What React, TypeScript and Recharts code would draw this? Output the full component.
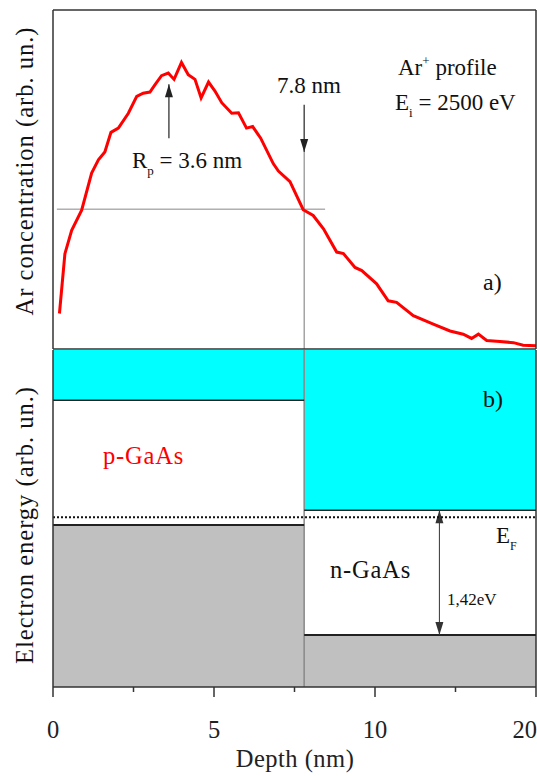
import React from 'react'
import { LineChart, ComposedChart, Line, XAxis, YAxis, ReferenceLine, ReferenceArea } from 'recharts'

// Ar+ implantation profile (panel a)
const depth = [
  0.2, 0.37, 0.58, 0.89, 1.2, 1.41, 1.61, 1.8, 2.03, 2.34, 2.6, 2.8, 3.01, 3.17, 3.37, 3.58, 3.76, 3.99,
  4.2, 4.41, 4.6, 4.83, 5.03, 5.24, 5.55, 5.76, 6.01, 6.2, 6.45, 6.84, 7.0, 7.36, 7.77, 8.08, 8.4, 8.81,
  9.02, 9.38, 9.59, 10.05, 10.41, 10.67, 11.19, 11.81, 12.33, 12.74, 13.0, 13.21, 13.47, 13.88, 14.3, 14.6, 15.0,
]
const arConcentration = [
  0.67, 1.8, 2.24, 2.62, 3.32, 3.57, 3.72, 4.09, 4.17, 4.45, 4.77, 4.83, 4.85, 4.99, 5.16, 5.21, 5.09, 5.41,
  5.18, 5.09, 4.74, 5.04, 4.87, 4.65, 4.45, 4.46, 4.17, 4.2, 3.98, 3.5, 3.36, 3.16, 2.63, 2.52, 2.27, 1.83,
  1.8, 1.54, 1.48, 1.23, 0.91, 0.88, 0.63, 0.47, 0.34, 0.28, 0.2, 0.28, 0.16, 0.14, 0.12, 0.07, 0.06,
]

const xDomain = [0, 15]
const xTicks = [0, 2.5, 5, 7.5, 10, 12.5, 15]
const xTickLabels = ['0', '', '5', '', '10', '', '20']
const yTicksTop = [0, 1, 2, 3, 4, 5, 6]

const rp = 3.6
const junction = 7.8
const halfLevel = 2.64

// band diagram (panel b), energies in eV
const regionStart = [0, 7.8]
const regionEnd = [7.8, 15]
const conductionEdge = [3.26, 2.01]
const valenceEdge = [1.84, 0.59]
const fermiLevel = 1.93
const energyTop = 3.83
const gapArrowX = 12

// Liberation Serif turns into a sans face at 25px and up here, so nothing is drawn above 24.5px
const FONT = 'Liberation Serif'
const MAX_SIZE = 24.5
const FRAME = '#333'

function arrow(both: boolean, color: string, width = 1.2) {
  return (props: any) => {
    const { x1, y1, x2, y2 } = props
    const dir = y2 > y1 ? 1 : -1
    const head = (x: number, y: number, d: number) => (
      <polygon points={`${x},${y} ${x - 4},${y - d * 13} ${x + 4},${y - d * 13}`} fill={color} />
    )
    return (
      <g>
        <line x1={x1} y1={y1} x2={x2} y2={y2} stroke={color} strokeWidth={width} />
        {head(x2, y2, dir)}
        {both && head(x1, y1, -dir)}
      </g>
    )
  }
}

const TICK_GAP = 33
// labelled ticks get a long mark, the others a short one
function DepthTick(props: any) {
  const { x, y, payload } = props
  const label = xTickLabels[xTicks.indexOf(payload.value)] ?? ''
  const last = payload.value === xTicks[xTicks.length - 1]
  const axisY = y - TICK_GAP
  return (
    <g>
      <line x1={x} x2={x} y1={axisY} y2={axisY + (label ? 10 : 5)} stroke={FRAME} strokeWidth={1.5} />
      <text x={last ? x + 1 : x} y={y} dy={18} textAnchor={last ? 'end' : 'middle'} fontSize={MAX_SIZE} fill="#222"
        style={{ fontFamily: FONT }}>
        {label}
      </text>
    </g>
  )
}

const profile = depth.map((d, i) => ({ depth: d, ar: arConcentration[i] }))
const bandRows = [...regionStart, regionEnd[regionEnd.length - 1]].map((x) => ({ x, ef: fermiLevel }))

function ProfileChart() {
  const axis = { stroke: FRAME, strokeWidth: 1.5 }
  return (
    <LineChart width={537} height={350} data={profile} margin={{ top: 9, right: 0, bottom: 1, left: 53 }}>
      <XAxis xAxisId="b" dataKey="depth" type="number" domain={xDomain} ticks={xTicks} mirror tick={false}
        tickSize={5} height={1} axisLine={axis} tickLine={axis} />
      <XAxis xAxisId="t" orientation="top" dataKey="depth" type="number" domain={xDomain} ticks={xTicks}
        tick={false} tickSize={-5} height={1} axisLine={axis} tickLine={axis} />
      <YAxis yAxisId="l" type="number" domain={[0, 6.4]} ticks={yTicksTop} mirror tick={false} tickSize={10}
        axisLine={axis} tickLine={axis} />
      <YAxis yAxisId="r" orientation="right" type="number" domain={[0, 6.4]} ticks={yTicksTop} tick={false}
        tickSize={-8} width={1} axisLine={axis} tickLine={axis} />
      <ReferenceLine xAxisId="b" yAxisId="l" segment={[{ x: 0.12, y: halfLevel }, { x: 8.45, y: halfLevel }]}
        stroke="#888" strokeWidth={1} />
      <ReferenceLine xAxisId="b" yAxisId="l" segment={[{ x: junction, y: 3.72 }, { x: junction, y: 0 }]}
        stroke="#777" strokeWidth={1} />
      <ReferenceLine xAxisId="b" yAxisId="l" segment={[{ x: junction, y: 4.61 }, { x: junction, y: 3.72 }]}
        shape={arrow(false, '#222')} />
      <ReferenceLine xAxisId="b" yAxisId="l" segment={[{ x: rp, y: 3.98 }, { x: rp, y: 5.0 }]}
        shape={arrow(false, '#222')} />
      {/* invisible copy so the top/right frame axes get a domain and ticks */}
      <Line xAxisId="t" yAxisId="r" dataKey="ar" type="linear" stroke="none" dot={false} isAnimationActive={false} />
      <Line xAxisId="b" yAxisId="l" dataKey="ar" type="linear" stroke="#ff0000" strokeWidth={3} dot={false}
        isAnimationActive={false} />
    </LineChart>
  )
}

function BandChart() {
  const axis = { stroke: FRAME, strokeWidth: 1.5 }
  return (
    <ComposedChart width={537} height={427} data={bandRows} margin={{ top: 1, right: 1, bottom: 0, left: 53 }}>
      <XAxis dataKey="x" type="number" domain={xDomain} ticks={xTicks} interval={0} tickSize={0} tickMargin={TICK_GAP}
        height={89} axisLine={axis} tickLine={false} tick={<DepthTick />} />
      <YAxis type="number" domain={[0, energyTop]} mirror tick={false} tickLine={false} axisLine={axis} />
      {regionStart.map((s, i) => (
        <ReferenceArea key={`c${i}`} x1={s} x2={regionEnd[i]} y1={conductionEdge[i]} y2={energyTop}
          fill="#00ffff" fillOpacity={1} stroke="none" />
      ))}
      {regionStart.map((s, i) => (
        <ReferenceArea key={`v${i}`} x1={s} x2={regionEnd[i]} y1={0} y2={valenceEdge[i]}
          fill="#c0c0c0" fillOpacity={1} stroke="none" />
      ))}
      <ReferenceLine x={junction} stroke="#888" strokeWidth={1.5} />
      <ReferenceLine x={xDomain[1]} stroke={FRAME} strokeWidth={1.5} />
      {regionStart.map((s, i) => (
        <ReferenceLine key={`ce${i}`} segment={[{ x: s, y: conductionEdge[i] }, { x: regionEnd[i], y: conductionEdge[i] }]}
          stroke="#222" strokeWidth={1.5} />
      ))}
      {regionStart.map((s, i) => (
        <ReferenceLine key={`ve${i}`} segment={[{ x: s, y: valenceEdge[i] }, { x: regionEnd[i], y: valenceEdge[i] }]}
          stroke="#222" strokeWidth={2} />
      ))}
      <ReferenceLine segment={[{ x: gapArrowX, y: valenceEdge[1] }, { x: gapArrowX, y: conductionEdge[1] }]}
        shape={arrow(true, '#333', 1)} />
      <Line dataKey="ef" type="linear" stroke="#111" strokeWidth={2} strokeDasharray="2 2" dot={false}
        isAnimationActive={false} />
    </ComposedChart>
  )
}

// HTML text placed by its baseline
function Note({ x, base, size, color = '#111', spacing = 0, children }: any) {
  const fs = Math.min(size, MAX_SIZE)
  return (
    <div style={{
      position: 'absolute', left: x, top: base - 0.84 * fs, fontSize: fs, lineHeight: 1,
      fontFamily: FONT, color, whiteSpace: 'nowrap', letterSpacing: spacing,
    }}>
      {children}
    </div>
  )
}

function Sub({ children, size = 13, shift = 7 }: any) {
  return <span style={{ fontSize: size, position: 'relative', top: shift }}>{children}</span>
}

function AxisTitle({ cx, cy, children }: any) {
  return (
    <div style={{
      position: 'absolute', left: cx, top: cy, transform: 'translate(-50%, -50%) rotate(-90deg)',
      fontSize: MAX_SIZE, lineHeight: 1, fontFamily: FONT, color: '#111', whiteSpace: 'nowrap', letterSpacing: 1,
    }}>
      {children}
    </div>
  )
}

export default function App() {
  return (
    <div style={{ position: 'absolute', left: 0, top: 0, width: 537, height: 776, background: '#fff', overflow: 'hidden' }}>
      <div style={{ position: 'absolute', left: 0, top: 0 }}>
        <ProfileChart />
      </div>
      <div style={{ position: 'absolute', left: 0, top: 349 }}>
        <BandChart />
      </div>
      <AxisTitle cx={25} cy={171}>Ar concentration (arb. un.)</AxisTitle>
      <AxisTitle cx={25} cy={525}>Electron energy (arb. un.)</AxisTitle>
      <div style={{
        position: 'absolute', left: 0, width: 537, top: 768 - 0.84 * MAX_SIZE, textAlign: 'center', paddingLeft: 53,
        boxSizing: 'border-box', fontSize: MAX_SIZE, lineHeight: 1, fontFamily: FONT, color: '#222', letterSpacing: 0.5,
      }}>
        Depth (nm)
      </div>
      <Note x={398} base={75} size={23}>Ar<Sub shift={-10}>+</Sub> profile</Note>
      <Note x={395} base={110} size={23}>E<Sub>i</Sub> = 2500 eV</Note>
      <Note x={277} base={93} size={23}>7.8 nm</Note>
      <Note x={132} base={168} size={23}>R<Sub>p</Sub> = 3.6 nm</Note>
      <Note x={483} base={290} size={24}>a)</Note>
      <Note x={483} base={407} size={24}>b)</Note>
      <Note x={103} base={465} size={25} color="#ff0000" spacing={0.8}>p-GaAs</Note>
      <Note x={330} base={579} size={25} spacing={0.8}>n-GaAs</Note>
      <Note x={496} base={543} size={23}>E<Sub size={12} shift={7}>F</Sub></Note>
      <Note x={447} base={605} size={17}>1,42eV</Note>
    </div>
  )
}
